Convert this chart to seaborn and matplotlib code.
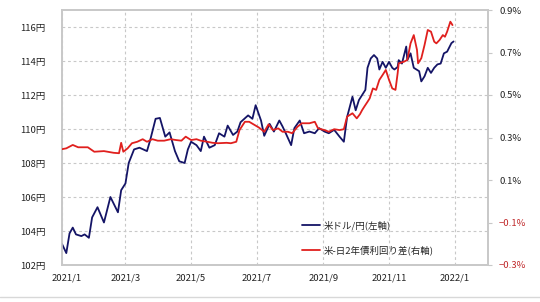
import matplotlib
matplotlib.use("Agg")
import matplotlib.pyplot as plt
import matplotlib.transforms as mtransforms
from matplotlib.lines import Line2D
import seaborn as sns
import pandas as pd

# ---- data ----
usd_dates = ["2021-01-01", "2021-01-05", "2021-01-08", "2021-01-11", "2021-01-14", "2021-01-19",
             "2021-01-22", "2021-01-26", "2021-01-29", "2021-02-03", "2021-02-09", "2021-02-15",
             "2021-02-22", "2021-02-25", "2021-03-01", "2021-03-04", "2021-03-09", "2021-03-14",
             "2021-03-21", "2021-03-24", "2021-03-29", "2021-04-02", "2021-04-07", "2021-04-11",
             "2021-04-16", "2021-04-20", "2021-04-25", "2021-04-28", "2021-05-01", "2021-05-06",
             "2021-05-10", "2021-05-13", "2021-05-18", "2021-05-23", "2021-05-27", "2021-06-01",
             "2021-06-04", "2021-06-09", "2021-06-13", "2021-06-16", "2021-06-23", "2021-06-27",
             "2021-06-30", "2021-07-05", "2021-07-08", "2021-07-13", "2021-07-17", "2021-07-22",
             "2021-07-25", "2021-07-28", "2021-08-02", "2021-08-05", "2021-08-10", "2021-08-14",
             "2021-08-19", "2021-08-24", "2021-08-28", "2021-09-02", "2021-09-06", "2021-09-11",
             "2021-09-16", "2021-09-20", "2021-09-23", "2021-09-28", "2021-10-01", "2021-10-04",
             "2021-10-10", "2021-10-12", "2021-10-15", "2021-10-18", "2021-10-21", "2021-10-23",
             "2021-10-26", "2021-10-29", "2021-11-01", "2021-11-04", "2021-11-06", "2021-11-09",
             "2021-11-10", "2021-11-13", "2021-11-17", "2021-11-18", "2021-11-21", "2021-11-24",
             "2021-11-29", "2021-12-01", "2021-12-04", "2021-12-07", "2021-12-10", "2021-12-13",
             "2021-12-16", "2021-12-19", "2021-12-22", "2021-12-25", "2021-12-29", "2021-12-31"]
usd_jpy = [103.24, 102.7, 103.86, 104.2, 103.8, 103.7,
           103.8, 103.6, 104.8, 105.4, 104.5, 106.0,
           105.1, 106.4, 106.8, 108.0, 108.8, 108.9,
           108.7, 109.35, 110.6, 110.65, 109.55, 109.8,
           108.7, 108.1, 108.0, 108.8, 109.25, 109.05,
           108.7, 109.55, 108.9, 109.05, 109.75, 109.55,
           110.2, 109.65, 109.85, 110.4, 110.8, 110.6,
           111.4, 110.5, 109.6, 110.3, 109.85, 110.5,
           110.15, 109.75, 109.05, 110.05, 110.5, 109.75,
           109.85, 109.75, 110.05, 109.85, 109.75, 109.95,
           109.55, 109.25, 110.7, 111.9, 111.1, 111.7,
           112.3, 113.6, 114.15, 114.35, 114.15, 113.5,
           113.95, 113.6, 113.95, 113.6, 113.5, 113.65,
           114.05, 113.85, 114.85, 114.05, 114.45, 113.6,
           113.4, 112.8, 113.1, 113.6, 113.3, 113.6,
           113.8, 113.85, 114.45, 114.55, 115.05, 115.15]

spread_dates = ["2021-01-01", "2021-01-05", "2021-01-11", "2021-01-16", "2021-01-25", "2021-01-31",
                "2021-02-09", "2021-02-18", "2021-02-23", "2021-02-25", "2021-02-27", "2021-03-03",
                "2021-03-07", "2021-03-12", "2021-03-17", "2021-03-21", "2021-03-26", "2021-03-31",
                "2021-04-06", "2021-04-12", "2021-04-17", "2021-04-22", "2021-04-26", "2021-05-01",
                "2021-05-06", "2021-05-10", "2021-05-16", "2021-05-21", "2021-05-26", "2021-06-03",
                "2021-06-07", "2021-06-12", "2021-06-15", "2021-06-20", "2021-06-24", "2021-06-29",
                "2021-07-03", "2021-07-08", "2021-07-12", "2021-07-16", "2021-07-21", "2021-07-25",
                "2021-07-30", "2021-08-03", "2021-08-08", "2021-08-12", "2021-08-19", "2021-08-24",
                "2021-08-27", "2021-09-02", "2021-09-06", "2021-09-11", "2021-09-16", "2021-09-20",
                "2021-09-23", "2021-09-28", "2021-10-02", "2021-10-05", "2021-10-07", "2021-10-09",
                "2021-10-12", "2021-10-14", "2021-10-17", "2021-10-20", "2021-10-23", "2021-10-26",
                "2021-10-29", "2021-11-01", "2021-11-04", "2021-11-07", "2021-11-09", "2021-11-10",
                "2021-11-15", "2021-11-18", "2021-11-21", "2021-11-24", "2021-11-27", "2021-11-28",
                "2021-12-01", "2021-12-04", "2021-12-07", "2021-12-10", "2021-12-13", "2021-12-15",
                "2021-12-18", "2021-12-21", "2021-12-23", "2021-12-25", "2021-12-28", "2021-12-30"]
yield_spread = [0.245, 0.249, 0.265, 0.254, 0.254, 0.233,
                0.236, 0.228, 0.226, 0.275, 0.233, 0.249,
                0.273, 0.280, 0.292, 0.280, 0.292, 0.285,
                0.285, 0.292, 0.288, 0.285, 0.304, 0.288,
                0.292, 0.285, 0.280, 0.275, 0.273, 0.275,
                0.273, 0.280, 0.335, 0.374, 0.374, 0.359,
                0.347, 0.327, 0.362, 0.335, 0.343, 0.327,
                0.327, 0.320, 0.351, 0.367, 0.367, 0.374,
                0.343, 0.335, 0.327, 0.339, 0.335, 0.339,
                0.398, 0.414, 0.390, 0.410, 0.429, 0.445,
                0.468, 0.484, 0.531, 0.524, 0.571, 0.594,
                0.618, 0.571, 0.531, 0.524, 0.602, 0.649,
                0.657, 0.665, 0.743, 0.782, 0.712, 0.649,
                0.673, 0.735, 0.806, 0.798, 0.751, 0.743,
                0.759, 0.782, 0.774, 0.798, 0.845, 0.829]

x_tick_dates = ["2021-01-01", "2021-03-01", "2021-05-01", "2021-07-01", "2021-09-01", "2021-11-01", "2022-01-01"]
x_tick_labels = ["2021/1", "2021/3", "2021/5", "2021/7", "2021/9", "2021/11", "2022/1"]
left_ticks = [102, 104, 106, 108, 110, 112, 114, 116]
left_tick_labels = ["102円", "104円", "106円", "108円", "110円", "112円", "114円", "116円"]
right_ticks = [-0.3, -0.1, 0.1, 0.3, 0.5, 0.7, 0.9]
right_tick_labels = ["−0.3%", "−0.1%", "0.1%", "0.3%", "0.5%", "0.7%", "0.9%"]
label_usd = "米ドル/円(左軸)"
label_spread = "米-日2年債利回り差(右軸)"

# ---- styling ----
sns.set_theme(style="white")
plt.rcParams["font.family"] = ["Noto Sans CJK JP", "DejaVu Sans"]

BLUE = "#141466"
RED = "#e0201e"
NEG_RED = "#c0282a"
FRAME = "#c8c8c8"
GRID = "#c8c8c8"

df_usd = pd.DataFrame({"date": pd.to_datetime(usd_dates), "value": usd_jpy})
df_spr = pd.DataFrame({"date": pd.to_datetime(spread_dates), "value": yield_spread})

fig = plt.figure(figsize=(5.4, 3.02), dpi=100)
ax = fig.add_axes([62 / 540, 1 - 265 / 302, (488 - 62) / 540, (265 - 10) / 302])
ax2 = ax.twinx()

sns.lineplot(data=df_usd, x="date", y="value", ax=ax, color=BLUE, linewidth=1.3, zorder=3)
sns.lineplot(data=df_spr, x="date", y="value", ax=ax2, color=RED, linewidth=1.3, zorder=3)

ax.set_xlim(pd.Timestamp("2021-01-01"), pd.Timestamp("2022-02-01"))
ax.set_ylim(102, 117)
ax2.set_ylim(-0.3, 0.9)

ax.set_xlabel("")
ax.set_ylabel("")
ax2.set_ylabel("")

ax.set_yticks(left_ticks)
ax.set_yticklabels(left_tick_labels, fontsize=6.8, color="#222222")
ax.set_xticks(pd.to_datetime(x_tick_dates))
ax.set_xticklabels(x_tick_labels, fontsize=6.8, color="#222222")
ax2.set_yticks(right_ticks)
ax2.set_yticklabels(right_tick_labels, fontsize=6.8)
for t, v in zip(ax2.get_yticklabels(), right_ticks):
    t.set_color(NEG_RED if v < 0 else "#222222")

ax.tick_params(axis="y", length=0, pad=12)
ax.tick_params(axis="x", length=0, pad=6)
ax2.tick_params(axis="y", length=3, width=0.8, color=FRAME, pad=5)

# shift first x label slightly right (as in the reference)
lbl0 = ax.get_xticklabels()[0]
lbl0.set_transform(lbl0.get_transform() + mtransforms.ScaledTranslation(5 / 100, 0, fig.dpi_scale_trans))

ax.grid(True, axis="both", color=GRID, linestyle=(0, (2.5, 2.5)), linewidth=0.8)
ax2.grid(False)
ax.set_axisbelow(True)

for a in (ax, ax2):
    for s in a.spines.values():
        s.set_color(FRAME)
        s.set_linewidth(1.2)

# legend
handles = [Line2D([0], [0], color=BLUE, linewidth=1.3),
           Line2D([0], [0], color=RED, linewidth=1.3)]
leg = ax.legend(handles, [label_usd, label_spread], loc="upper left",
                bbox_to_anchor=(294 / 540, 1 - 213 / 302), bbox_transform=fig.transFigure,
                frameon=False, fontsize=6.8, labelspacing=1.55, handlelength=2.0,
                handletextpad=0.3, borderpad=0.3)
leg.set_zorder(5)

# bottom frame line of the figure
fig.add_artist(Line2D([0, 1], [1 - 297 / 302] * 2, transform=fig.transFigure, color="#d8d8d8", linewidth=1.0))

fig.savefig("out.png", dpi=100, facecolor="white")
